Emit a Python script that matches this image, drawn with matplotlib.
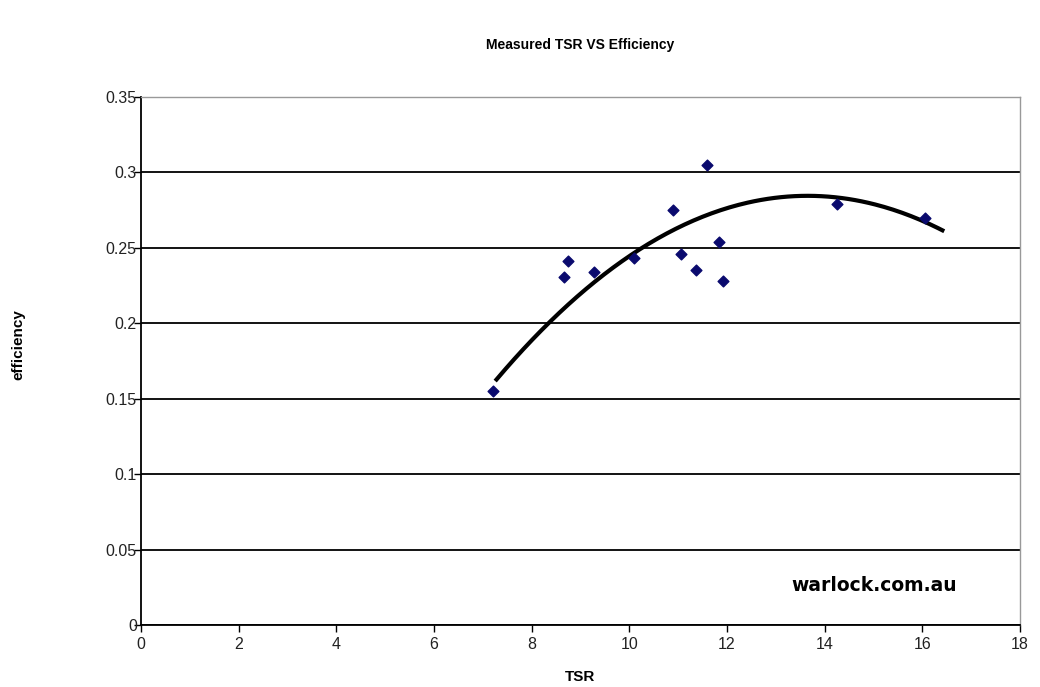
import numpy as np
import matplotlib.pyplot as plt

# measured points (TSR, efficiency)
tsr = [7.20, 8.66, 8.75, 9.28, 10.10, 10.90, 11.05, 11.37, 11.58, 11.84, 11.91, 14.26, 16.06]
efficiency = [0.155, 0.231, 0.241, 0.234, 0.243, 0.275, 0.246, 0.235, 0.305, 0.254, 0.228, 0.279, 0.270]

# 2nd order trendline as shown on the chart (a*x^2 + b*x + c), span of the line
trend_coef = [-0.003, 0.0819, -0.27447]
trend_span = [7.28, 16.41]

x_ticks = [0, 2, 4, 6, 8, 10, 12, 14, 16, 18]
y_ticks = [0, 0.05, 0.1, 0.15, 0.2, 0.25, 0.3, 0.35]
y_labels = ['0', '0.05', '0.1', '0.15', '0.2', '0.25', '0.3', '0.35']

plt.rcParams['font.family'] = ['Liberation Sans', 'DejaVu Sans']

fig = plt.figure(figsize=(10.4, 6.87), dpi=100)
ax = fig.add_axes([0.1356, 0.0902, 0.8452, 0.7686])

xt = np.linspace(trend_span[0], trend_span[1], 200)
ax.plot(xt, np.polyval(trend_coef, xt), color='black', lw=3, zorder=3)

ax.scatter(tsr, efficiency, marker='D', s=30, color='#0a0a6e', zorder=4)

ax.set_xlim(0, 18)
ax.set_ylim(0, 0.35)
ax.set_xticks(x_ticks)
ax.set_yticks(y_ticks)
ax.set_yticklabels(y_labels)
ax.tick_params(direction='out', length=5, width=1, labelsize=11.5, colors='black',
               labelcolor='#222222')
ax.tick_params(axis='y', pad=-2)
ax.yaxis.grid(True, color='black', lw=1.3)
ax.set_axisbelow(True)

for side in ['top', 'right']:
    ax.spines[side].set_color('#999999')
    ax.spines[side].set_linewidth(1)
for side in ['left', 'bottom']:
    ax.spines[side].set_linewidth(1.3)

ax.set_xlabel('TSR', fontsize=11, fontweight='bold', labelpad=13)
fig.text(0.018, 0.498, 'efficiency', rotation=90, fontsize=11, fontweight='bold',
         ha='center', va='center')
fig.text(0.558, 0.935, 'Measured TSR VS Efficiency', fontsize=10, fontweight='bold',
         ha='center', va='center')
ax.text(15.02, 0.0265, 'warlock.com.au', fontsize=13.5, fontweight='bold',
        family='DejaVu Sans', ha='center', va='center')

fig.savefig('out.png', dpi=100, facecolor='white')
